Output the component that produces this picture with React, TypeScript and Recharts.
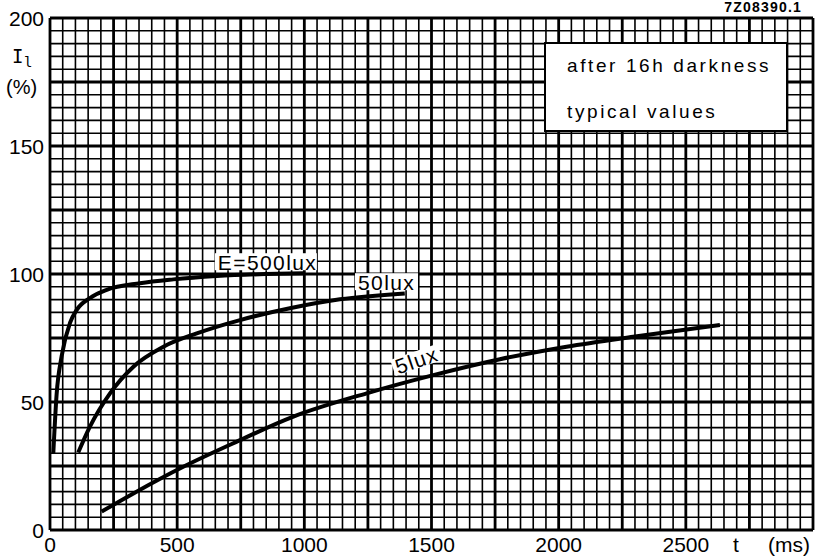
import React from "react";
import { LineChart, Line, XAxis, YAxis, ReferenceLine, ReferenceDot } from "recharts";

// curve E = 500 lux
const t500 = [13, 26, 46, 79, 105, 157, 223, 354, 485, 655, 1000];
const i500 = [30, 53, 68, 81, 86, 90.6, 93.8, 96.4, 97.9, 99.2, 100.3];

// curve 50 lux
const t50 = [111, 157, 236, 328, 446, 577, 747, 943, 1140, 1395];
const i50 = [30.3, 40.4, 53.4, 63.8, 71.6, 76.8, 82, 86.6, 90.1, 92.4];

// curve 5 lux
const t5 = [203, 328, 524, 721, 957, 1245, 1507, 1769, 2031, 2293, 2634];
const i5 = [7.2, 14.3, 24.7, 33.9, 44.3, 53.4, 60.5, 66.7, 71.6, 75.5, 80.1];

const xTicks = [0, 500, 1000, 1500, 2000, 2500];
const yTicks = [0, 50, 100, 150, 200];

const FONT = "'Liberation Sans', Arial, sans-serif";

// millimetre paper: fine lines every 50 ms / 5 %, heavy every 250 ms / 25 %
const gridX = Array.from({ length: 61 }, (_, i) => i * 50);
const gridY = Array.from({ length: 41 }, (_, i) => i * 5);

const toRows = (ts: number[], vs: number[]) => ts.map((t, i) => ({ t, v: vs[i] }));

const XTick = ({ x, payload }: any) => (
    <text x={x} y={552} textAnchor="middle" fontFamily={FONT} fontSize={21} fill="#000">
        {payload.value}
    </text>
);

const YTick = ({ y, payload }: any) => (
    <text x={44} y={y} dy="0.36em" textAnchor="end" fontFamily={FONT} fontSize={21} fill="#000">
        {payload.value}
    </text>
);

// label on a curve, white patch behind the text
const curveLabel = (text: string, w: number, rotate = 0) => (props: any) => {
    const { cx, cy } = props;
    return (
        <g transform={`rotate(${rotate} ${cx} ${cy})`}>
            <rect x={cx - 3} y={cy - 9} width={w + 6} height={17} fill="#fff" />
            <text x={cx} y={cy} dy="0.36em" fontFamily={FONT} fontSize={21} letterSpacing={1.4} fill="#000">
                {text}
            </text>
        </g>
    );
};

export default function App() {
    return (
        <div style={{ position: "absolute", left: 0, top: 0, width: 815, height: 559, background: "#fff" }}>
            <LineChart width={815} height={559} margin={{ top: 18, right: 2, bottom: 0, left: 0 }}>
                <XAxis
                    type="number"
                    dataKey="t"
                    domain={[0, 3000]}
                    ticks={xTicks}
                    height={29}
                    axisLine={false}
                    tickLine={false}
                    tick={<XTick />}
                    allowDataOverflow
                />
                <YAxis
                    type="number"
                    dataKey="v"
                    domain={[0, 200]}
                    ticks={yTicks}
                    width={50}
                    axisLine={false}
                    tickLine={false}
                    tick={<YTick />}
                    allowDataOverflow
                />
                {gridX.map((g) => (
                    <ReferenceLine
                        key={`gx${g}`}
                        x={g}
                        stroke="#000"
                        strokeWidth={g % 250 === 0 ? 2.8 : 1.6}
                        zIndex={-50}
                    />
                ))}
                {gridY.map((g) => (
                    <ReferenceLine
                        key={`gy${g}`}
                        y={g}
                        stroke="#000"
                        strokeWidth={g % 25 === 0 ? 2.8 : 1.6}
                        zIndex={-50}
                    />
                ))}
                <Line data={toRows(t500, i500)} dataKey="v" type="monotone" stroke="#000" strokeWidth={4} dot={false} isAnimationActive={false} />
                <Line data={toRows(t50, i50)} dataKey="v" type="monotone" stroke="#000" strokeWidth={4} dot={false} isAnimationActive={false} />
                <Line data={toRows(t5, i5)} dataKey="v" type="monotone" stroke="#000" strokeWidth={4} dot={false} isAnimationActive={false} />
                <ReferenceDot x={660} y={104.6} r={0} shape={curveLabel("E=500lux", 96)} zIndex={2000} />
                <ReferenceDot x={1211} y={96.8} r={0} shape={curveLabel("50lux", 57)} zIndex={2000} />
                <ReferenceDot x={1360} y={63.5} r={0} shape={curveLabel("5lux", 44, -19)} zIndex={2000} />
            </LineChart>
            <svg width={815} height={559} style={{ position: "absolute", left: 0, top: 0, pointerEvents: "none" }}>
                <text x={802} y={12} textAnchor="end" fontFamily={FONT} fontSize={14} fontWeight="bold" letterSpacing={1.2}>
                    7Z08390.1
                </text>
                <text x={12} y={63} fontFamily="'DejaVu Sans Mono', monospace" fontSize={19}>I</text>
                <text x={24} y={67} fontFamily="'DejaVu Sans Mono', monospace" fontSize={14}>l</text>
                <text x={6} y={94} fontFamily={FONT} fontSize={20}>(%)</text>
                <rect x={545} y={43} width={242} height={88} fill="#fff" stroke="#000" strokeWidth={2} />
                <text x={567} y={72} fontFamily={FONT} fontSize={19} letterSpacing={2.6}>after 16h darkness</text>
                <text x={567} y={118} fontFamily={FONT} fontSize={19} letterSpacing={2.6}>typical values</text>
                <text x={733} y={552} fontFamily={FONT} fontSize={21}>t</text>
                <text x={768} y={552} fontFamily={FONT} fontSize={21}>(ms)</text>
            </svg>
        </div>
    );
}
